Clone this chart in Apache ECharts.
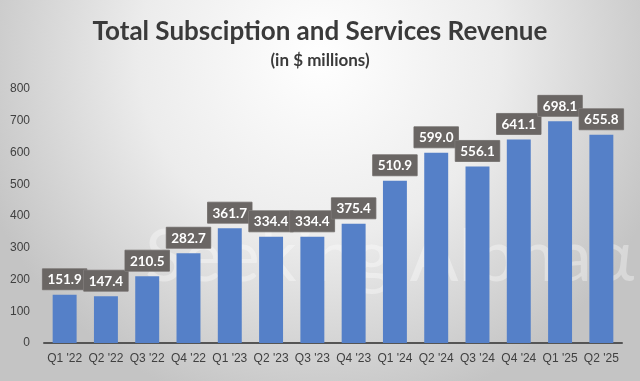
<!DOCTYPE html>
<html><head><meta charset="utf-8">
<script src="https://cdn.jsdelivr.net/npm/echarts@6/dist/echarts.min.js"></script>
<style>html,body{margin:0;padding:0;}#c{width:640px;height:381px;}</style>
</head><body><div id="c"></div>
<script>
const categories = ["Q1 '22","Q2 '22","Q3 '22","Q4 '22","Q1 '23","Q2 '23","Q3 '23","Q4 '23","Q1 '24","Q2 '24","Q3 '24","Q4 '24","Q1 '25","Q2 '25"];
const revenue = [151.9,147.4,210.5,282.7,361.7,334.4,334.4,375.4,510.9,599.0,556.1,641.1,698.1,655.8];
const yTicks = [0,100,200,300,400,500,600,700,800];

const chart = echarts.init(document.getElementById('c'));
chart.setOption({
  animation:false,
  backgroundColor:{type:'radial',x:0.5,y:0.15,r:0.95,colorStops:[{offset:0,color:'#ffffff'},{offset:0.5,color:'#ececec'},{offset:1,color:'#c4c4c4'}]},
  title:{text:'Total Subsciption and Services Revenue',subtext:'(in $ millions)',left:'center',top:14,itemGap:7,
    textStyle:{fontFamily:'Lato',fontWeight:'bold',fontSize:26,color:'#3a3a3a'},
    subtextStyle:{fontFamily:'Lato',fontWeight:'bold',fontSize:17,color:'#3a3a3a'}},
  graphic:[{type:'text',left:145,top:222,silent:true,z:0,style:{text:'Seeking Alpha\u03b1',fontFamily:'Lato',fontSize:72,fill:'rgba(255,255,255,0.35)'}}],
  grid:{left:44,right:18,top:89,bottom:38},
  xAxis:{type:'category',data:categories,axisTick:{show:false},
    axisLine:{lineStyle:{color:'#555555',width:2}},
    axisLabel:{color:'#404040',fontSize:12,fontFamily:'Liberation Sans',margin:10,interval:0}},
  yAxis:{type:'value',min:yTicks[0],max:yTicks[yTicks.length-1],interval:100,
    splitLine:{show:false},axisLine:{show:false},axisTick:{show:false},
    axisLabel:{color:'#404040',fontSize:12,fontFamily:'Liberation Sans',margin:14}},
  series:[{type:'bar',data:revenue,barCategoryGap:'42%',z:2,
    itemStyle:{color:'#5580c8'},
    label:{show:true,position:'top',distance:5,formatter:p=>p.value.toFixed(1),
      backgroundColor:'#6a6664',color:'#ffffff',fontWeight:'bold',fontSize:13.5,fontFamily:'Lato',
      padding:[4,5,3,5],borderColor:'#8a8684',borderWidth:0.5}}]
});
</script></body></html>
